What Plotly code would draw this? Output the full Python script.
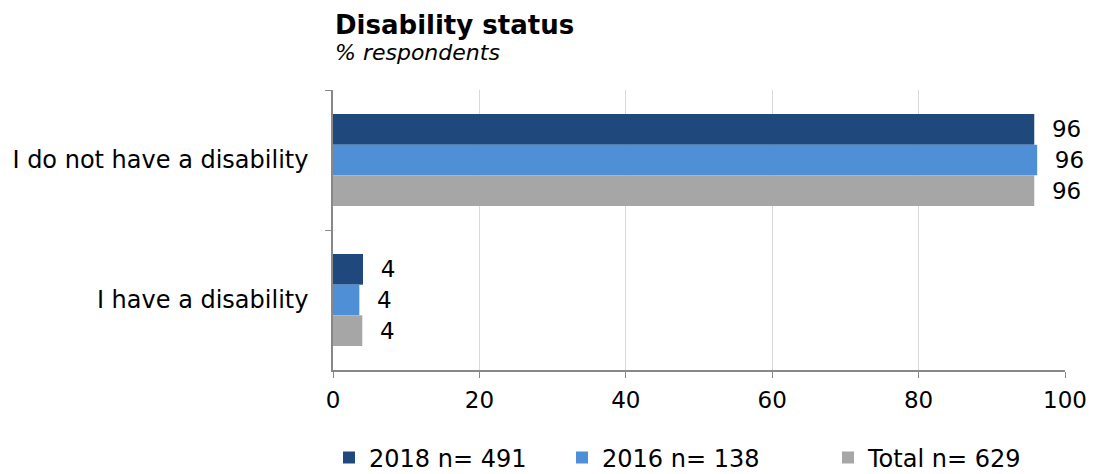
import plotly.graph_objects as go

categories = ["I do not have a disability", "I have a disability"]
series_names = ["2018 n= 491", "2016 n= 138", "Total n= 629"]
values_2018 = [95.8, 4.1]
values_2016 = [96.2, 3.6]
values_total = [95.8, 4.0]
x_ticks = [0, 20, 40, 60, 80, 100]

colors = ["#1f497d", "#4f8fd6", "#a6a6a6"]
legend_ids = ["legend", "legend2", "legend3"]
legend_x = [321, 554, 820]  # left edges of the legend entries, figure px
FONT = "Verdana, DejaVu Sans, sans-serif"

fig = go.Figure()
for name, vals, col, lid in zip(series_names, [values_2018, values_2016, values_total],
                                colors, legend_ids):
    fig.add_trace(go.Bar(
        y=categories, x=vals, name=name, orientation="h", legend=lid,
        marker=dict(color=col, line=dict(width=0)),
        texttemplate="\u00a0\u00a0%{x:.0f}", textposition="outside", cliponaxis=False,
        textfont=dict(family=FONT, size=23, color="#000000"),
    ))

# page body has an 8px margin; figure coordinates are window coordinates minus 8
W, H = 1096, 474
legend_common = dict(orientation="h", xref="container", yref="container",
                     xanchor="left", y=1 - 450 / H, yanchor="middle",
                     font=dict(family=FONT, size=24), itemwidth=30,
                     bgcolor="rgba(0,0,0,0)")
fig.update_layout(
    width=W, height=H,
    barmode="group", bargap=0.343, bargroupgap=0,
    plot_bgcolor="white", paper_bgcolor="white",
    margin=dict(l=325, r=39, t=82, b=112, autoexpand=False),
    font=dict(family=FONT, size=24, color="#000000"),
    showlegend=True,
    legend=dict(legend_common, x=legend_x[0] / W),
    legend2=dict(legend_common, x=legend_x[1] / W),
    legend3=dict(legend_common, x=legend_x[2] / W),
)
fig.add_annotation(text="<b>Disability status</b>", xref="paper", yref="paper",
                   x=0.0, y=1.0, xanchor="left", yanchor="middle",
                   xshift=0, yshift=65, showarrow=False,
                   font=dict(family=FONT, size=26, color="#000000"))
fig.add_annotation(text="<i>% respondents</i>", xref="paper", yref="paper",
                   x=0.0, y=1.0, xanchor="left", yanchor="middle",
                   xshift=0, yshift=38, showarrow=False,
                   font=dict(family=FONT, size=22, color="#000000"))

fig.update_xaxes(range=[0, 100], tickvals=x_ticks, ticktext=[str(t) for t in x_ticks],
                 showgrid=True, gridcolor="#d9d9d9", gridwidth=1,
                 showline=True, linecolor="#888888", linewidth=1.5,
                 ticks="outside", ticklen=6, tickcolor="#888888", ticklabelstandoff=3,
                 tickfont=dict(family=FONT, size=23), zeroline=False, automargin=False)
fig.update_yaxes(categoryorder="array", categoryarray=categories, autorange="reversed",
                 showline=True, linecolor="#888888", linewidth=1.5,
                 ticks="outside", ticklen=6, tickcolor="#888888", tickson="boundaries",
                 ticklabelstandoff=18, automargin=False,
                 tickfont=dict(family=FONT, size=24), showgrid=False)

fig.write_html("out.html")
